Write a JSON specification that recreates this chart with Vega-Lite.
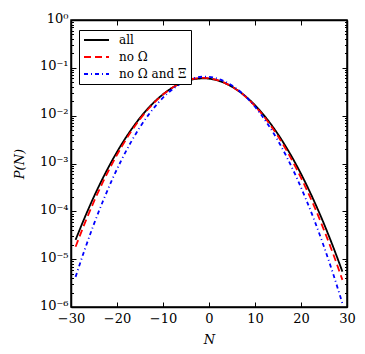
{
  "$schema": "https://vega.github.io/schema/vega-lite/v6.json",
  "width": 276,
  "height": 287,
  "autosize": "none",
  "padding": {"left": 71, "top": 20, "right": 18, "bottom": 47},
  "config": {
    "view": {"stroke": "black", "strokeWidth": 1.5},
    "font": "DejaVu Serif",
    "axis": {"grid": false, "domainColor": "black", "domainWidth": 1.5, "tickColor": "black", "tickWidth": 1, "labelColor": "black", "labelFont": "DejaVu Serif", "labelFontSize": 13, "labelFlush": false, "titleFont": "DejaVu Serif", "titleFontSize": 13, "titleFontStyle": "italic", "titleFontWeight": "normal", "titleColor": "black"}
  },
  "data": {"values": [
    {"N": -29, "P": 2.54e-5, "s": "all"},
    {"N": -27, "P": 7.48e-5, "s": "all"},
    {"N": -25, "P": 2.04e-4, "s": "all"},
    {"N": -23, "P": 5.11e-4, "s": "all"},
    {"N": -21, "P": 1.18e-3, "s": "all"},
    {"N": -19, "P": 2.52e-3, "s": "all"},
    {"N": -17, "P": 4.95e-3, "s": "all"},
    {"N": -15, "P": 8.99e-3, "s": "all"},
    {"N": -13, "P": 1.507e-2, "s": "all"},
    {"N": -11, "P": 2.32e-2, "s": "all"},
    {"N": -9, "P": 3.30e-2, "s": "all"},
    {"N": -7, "P": 4.34e-2, "s": "all"},
    {"N": -5, "P": 5.25e-2, "s": "all"},
    {"N": -3, "P": 5.85e-2, "s": "all"},
    {"N": -1, "P": 6.03e-2, "s": "all"},
    {"N": 1, "P": 5.71e-2, "s": "all"},
    {"N": 3, "P": 5.00e-2, "s": "all"},
    {"N": 5, "P": 4.03e-2, "s": "all"},
    {"N": 7, "P": 3.00e-2, "s": "all"},
    {"N": 9, "P": 2.06e-2, "s": "all"},
    {"N": 11, "P": 1.30e-2, "s": "all"},
    {"N": 13, "P": 7.59e-3, "s": "all"},
    {"N": 15, "P": 4.08e-3, "s": "all"},
    {"N": 17, "P": 2.02e-3, "s": "all"},
    {"N": 19, "P": 9.27e-4, "s": "all"},
    {"N": 21, "P": 3.91e-4, "s": "all"},
    {"N": 23, "P": 1.52e-4, "s": "all"},
    {"N": 25, "P": 5.46e-5, "s": "all"},
    {"N": 27, "P": 1.80e-5, "s": "all"},
    {"N": 29, "P": 5.50e-6, "s": "all"},
    {"N": -29, "P": 1.82e-5, "s": "no Ω"},
    {"N": -27, "P": 5.65e-5, "s": "no Ω"},
    {"N": -25, "P": 1.61e-4, "s": "no Ω"},
    {"N": -23, "P": 4.21e-4, "s": "no Ω"},
    {"N": -21, "P": 1.01e-3, "s": "no Ω"},
    {"N": -19, "P": 2.23e-3, "s": "no Ω"},
    {"N": -17, "P": 4.53e-3, "s": "no Ω"},
    {"N": -15, "P": 8.45e-3, "s": "no Ω"},
    {"N": -13, "P": 1.445e-2, "s": "no Ω"},
    {"N": -11, "P": 2.28e-2, "s": "no Ω"},
    {"N": -9, "P": 3.29e-2, "s": "no Ω"},
    {"N": -7, "P": 4.38e-2, "s": "no Ω"},
    {"N": -5, "P": 5.33e-2, "s": "no Ω"},
    {"N": -3, "P": 5.98e-2, "s": "no Ω"},
    {"N": -1, "P": 6.16e-2, "s": "no Ω"},
    {"N": 1, "P": 5.83e-2, "s": "no Ω"},
    {"N": 3, "P": 5.07e-2, "s": "no Ω"},
    {"N": 5, "P": 4.05e-2, "s": "no Ω"},
    {"N": 7, "P": 2.97e-2, "s": "no Ω"},
    {"N": 9, "P": 2.00e-2, "s": "no Ω"},
    {"N": 11, "P": 1.24e-2, "s": "no Ω"},
    {"N": 13, "P": 7.06e-3, "s": "no Ω"},
    {"N": 15, "P": 3.70e-3, "s": "no Ω"},
    {"N": 17, "P": 1.78e-3, "s": "no Ω"},
    {"N": 19, "P": 7.83e-4, "s": "no Ω"},
    {"N": 21, "P": 3.18e-4, "s": "no Ω"},
    {"N": 23, "P": 1.19e-4, "s": "no Ω"},
    {"N": 25, "P": 4.06e-5, "s": "no Ω"},
    {"N": 27, "P": 1.28e-5, "s": "no Ω"},
    {"N": 29, "P": 3.69e-6, "s": "no Ω"},
    {"N": -29, "P": 4.27e-6, "s": "no Ω and Ξ"},
    {"N": -27, "P": 1.60e-5, "s": "no Ω and Ξ"},
    {"N": -25, "P": 5.46e-5, "s": "no Ω and Ξ"},
    {"N": -23, "P": 1.68e-4, "s": "no Ω and Ξ"},
    {"N": -21, "P": 4.72e-4, "s": "no Ω and Ξ"},
    {"N": -19, "P": 1.20e-3, "s": "no Ω and Ξ"},
    {"N": -17, "P": 2.76e-3, "s": "no Ω and Ξ"},
    {"N": -15, "P": 5.77e-3, "s": "no Ω and Ξ"},
    {"N": -13, "P": 1.09e-2, "s": "no Ω and Ξ"},
    {"N": -11, "P": 1.88e-2, "s": "no Ω and Ξ"},
    {"N": -9, "P": 2.93e-2, "s": "no Ω and Ξ"},
    {"N": -7, "P": 4.15e-2, "s": "no Ω and Ξ"},
    {"N": -5, "P": 5.32e-2, "s": "no Ω and Ξ"},
    {"N": -3, "P": 6.19e-2, "s": "no Ω and Ξ"},
    {"N": -1, "P": 6.53e-2, "s": "no Ω and Ξ"},
    {"N": 1, "P": 6.25e-2, "s": "no Ω and Ξ"},
    {"N": 3, "P": 5.42e-2, "s": "no Ω and Ξ"},
    {"N": 5, "P": 4.27e-2, "s": "no Ω and Ξ"},
    {"N": 7, "P": 3.05e-2, "s": "no Ω and Ξ"},
    {"N": 9, "P": 1.98e-2, "s": "no Ω and Ξ"},
    {"N": 11, "P": 1.16e-2, "s": "no Ω and Ξ"},
    {"N": 13, "P": 6.18e-3, "s": "no Ω and Ξ"},
    {"N": 15, "P": 2.99e-3, "s": "no Ω and Ξ"},
    {"N": 17, "P": 1.31e-3, "s": "no Ω and Ξ"},
    {"N": 19, "P": 5.20e-4, "s": "no Ω and Ξ"},
    {"N": 21, "P": 1.87e-4, "s": "no Ω and Ξ"},
    {"N": 23, "P": 6.14e-5, "s": "no Ω and Ξ"},
    {"N": 25, "P": 1.82e-5, "s": "no Ω and Ξ"},
    {"N": 27, "P": 4.89e-6, "s": "no Ω and Ξ"},
    {"N": 29, "P": 1.19e-6, "s": "no Ω and Ξ"}
  ]},
  "resolve": {"axis": {"x": "independent", "y": "independent"}},
  "layer": [
    {
      "mark": {"type": "line", "interpolate": "monotone", "strokeWidth": 1.8},
      "encoding": {
        "x": {"field": "N", "type": "quantitative", "scale": {"domain": [-30, 30], "nice": false, "zero": false},
              "axis": {"orient": "bottom", "values": [-30, -20, -10, 0, 10, 20, 30], "tickSize": -5, "labelPadding": 10, "labelFlush": false, "labelFont": "DejaVu Serif", "title": "N", "titlePadding": 8}},
        "y": {"field": "P", "type": "quantitative", "scale": {"type": "log", "domain": [1e-6, 1], "nice": false},
              "axis": {"orient": "left",
                       "values": [1e-6,2e-6,3e-6,4e-6,5e-6,6e-6,7e-6,8e-6,9e-6,1e-5,2e-5,3e-5,4e-5,5e-5,6e-5,7e-5,8e-5,9e-5,1e-4,2e-4,3e-4,4e-4,5e-4,6e-4,7e-4,8e-4,9e-4,1e-3,2e-3,3e-3,4e-3,5e-3,6e-3,7e-3,8e-3,9e-3,1e-2,2e-2,3e-2,4e-2,5e-2,6e-2,7e-2,8e-2,9e-2,1e-1,2e-1,3e-1,4e-1,5e-1,6e-1,7e-1,8e-1,9e-1,1],
                       "tickSize": {"condition": {"test": "abs(log(datum.value)/LN10 - round(log(datum.value)/LN10)) < 0.001", "value": -5}, "value": -2.5},
                       "labelPadding": 8, "labelFlush": false, "labelFont": "DejaVu Serif", "labelOffset": -2,
                       "labelExpr": "abs(log(datum.value)/LN10 - round(log(datum.value)/LN10)) > 0.001 ? '' : datum.value > 0.5 ? '10⁰' : datum.value > 0.05 ? '10⁻¹' : datum.value > 0.005 ? '10⁻²' : datum.value > 0.0005 ? '10⁻³' : datum.value > 0.00005 ? '10⁻⁴' : datum.value > 0.000005 ? '10⁻⁵' : '10⁻⁶'",
                       "title": "P(N)", "titlePadding": 13}},
        "color": {"field": "s", "type": "nominal", "scale": {"domain": ["all", "no Ω", "no Ω and Ξ"], "range": ["#000000", "#ff0000", "#0000ff"]},
                  "legend": {"title": null, "orient": "none", "legendX": 8, "legendY": 10, "strokeColor": "black", "fillColor": "white", "padding": 4, "labelFont": "DejaVu Serif", "labelFontSize": 12, "labelColor": "black", "labelOffset": 9, "symbolType": "stroke", "symbolSize": 625, "symbolStrokeWidth": 2, "clipHeight": 12, "rowPadding": 5, "cornerRadius": 0}},
        "strokeDash": {"field": "s", "type": "nominal", "scale": {"domain": ["all", "no Ω", "no Ω and Ξ"], "range": [[1, 0], [7, 4], [4, 3, 1, 3]]},
                  "legend": {"title": null}}
      }
    },
    {
      "mark": {"type": "line", "strokeOpacity": 0},
      "encoding": {
        "x": {"field": "N", "type": "quantitative", "axis": {"orient": "top", "values": [-30, -20, -10, 0, 10, 20, 30], "tickSize": -5, "labels": false, "title": null}},
        "y": {"field": "P", "type": "quantitative",
              "axis": {"orient": "right",
                       "values": [1e-6,2e-6,3e-6,4e-6,5e-6,6e-6,7e-6,8e-6,9e-6,1e-5,2e-5,3e-5,4e-5,5e-5,6e-5,7e-5,8e-5,9e-5,1e-4,2e-4,3e-4,4e-4,5e-4,6e-4,7e-4,8e-4,9e-4,1e-3,2e-3,3e-3,4e-3,5e-3,6e-3,7e-3,8e-3,9e-3,1e-2,2e-2,3e-2,4e-2,5e-2,6e-2,7e-2,8e-2,9e-2,1e-1,2e-1,3e-1,4e-1,5e-1,6e-1,7e-1,8e-1,9e-1,1],
                       "tickSize": {"condition": {"test": "abs(log(datum.value)/LN10 - round(log(datum.value)/LN10)) < 0.001", "value": -5}, "value": -2.5},
                       "labels": false, "title": null}},
        "detail": {"field": "s", "type": "nominal"}
      }
    }
  ]
}
